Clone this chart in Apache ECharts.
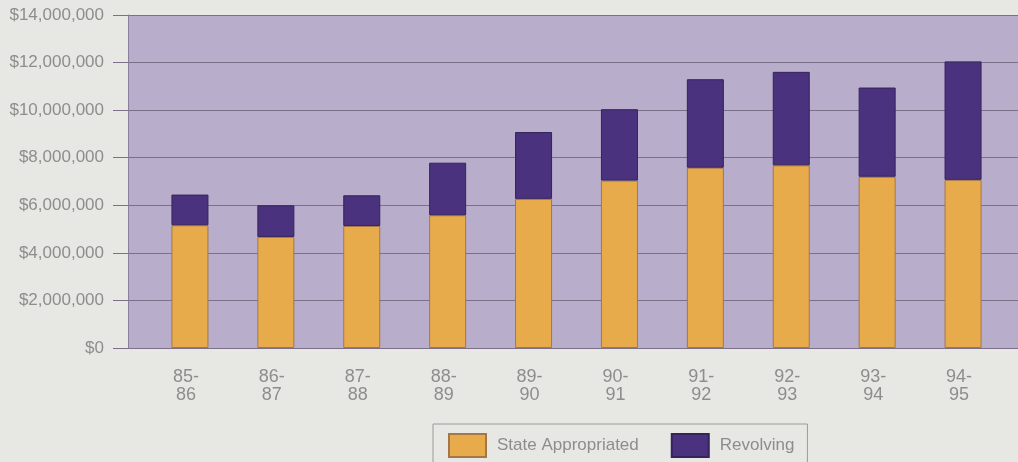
<!DOCTYPE html>
<html>
<head>
<meta charset="utf-8">
<script src="https://cdn.jsdelivr.net/npm/echarts@6/dist/echarts.min.js"></script>
<style>
html,body{margin:0;padding:0;background:#e7e7e4;}
#c{width:1018px;height:462px;}
</style>
</head>
<body>
<div id="c"></div>
<script>
var categories = ['85-\n86','86-\n87','87-\n88','88-\n89','89-\n90','90-\n91','91-\n92','92-\n93','93-\n94','94-\n95'];
var stateAppropriated = [5160000, 4670000, 5130000, 5580000, 6270000, 7040000, 7580000, 7680000, 7200000, 7070000];
var revolving = [1290000, 1330000, 1290000, 2210000, 2810000, 3000000, 3720000, 3930000, 3750000, 4980000];
var yTicks = [0, 2000000, 4000000, 6000000, 8000000, 10000000, 12000000, 14000000];

var font = "'Liberation Sans', Arial, sans-serif";
var textGray = '#8d8d8d';
var gridColor = '#7b7088';

function money(v){ return '$' + String(v).replace(/\B(?=(\d{3})+(?!\d))/g, ','); }

var chart = echarts.init(document.getElementById('c'), null, {renderer:'canvas'});
chart.setOption({
  backgroundColor: '#e7e7e4',
  animation: false,
  textStyle: {fontFamily: font},
  grid: [
    {left:128, right:0, top:15, bottom:114, show:true, backgroundColor:'#b8adca', borderWidth:0},
    {left:147, right:12, top:15, bottom:114}
  ],
  xAxis: [
    {type:'category', gridIndex:0, data:[''], show:false},
    {type:'category', gridIndex:1, data:categories,
     axisLine:{show:false}, axisTick:{show:false},
     axisLabel:{color:textGray, fontSize:18, lineHeight:18, margin:20, padding:[0,8,0,0], fontFamily:font}}
  ],
  yAxis: [
    {type:'value', gridIndex:0, min:yTicks[0], max:yTicks[yTicks.length-1], interval:yTicks[1]-yTicks[0],
     axisLine:{show:true, lineStyle:{color:'#8a7f98', width:1}},
     axisTick:{show:true, length:15, lineStyle:{color:gridColor, width:1}},
     splitLine:{show:true, lineStyle:{color:gridColor, width:1}},
     axisLabel:{color:textGray, fontSize:17, margin:24, fontFamily:font, formatter:money}},
    {type:'value', gridIndex:1, min:yTicks[0], max:yTicks[yTicks.length-1], interval:yTicks[1]-yTicks[0], show:false}
  ],
  legend: {
    left:433, top:424, width:372,
    padding:[9,13,30,15],
    borderColor:'#9a9a9a', borderWidth:1,
    itemWidth:37, itemHeight:23, itemGap:32,
    icon:'rect',
    textStyle:{color:textGray, fontSize:17, fontFamily:font, padding:[0,0,0,6]},
    data:['State Appropriated','Revolving']
  },
  series: [
    {name:'State Appropriated', type:'bar', stack:'t', xAxisIndex:1, yAxisIndex:1, barWidth:37,
     data:stateAppropriated,
     itemStyle:{color:'#e8ab4c', borderColor:'#a57748', borderWidth:1}},
    {name:'Revolving', type:'bar', stack:'t', xAxisIndex:1, yAxisIndex:1, barWidth:37,
     data:revolving,
     itemStyle:{color:'#4b327e', borderColor:'#35235c', borderWidth:1}}
  ]
});
</script>
</body>
</html>
